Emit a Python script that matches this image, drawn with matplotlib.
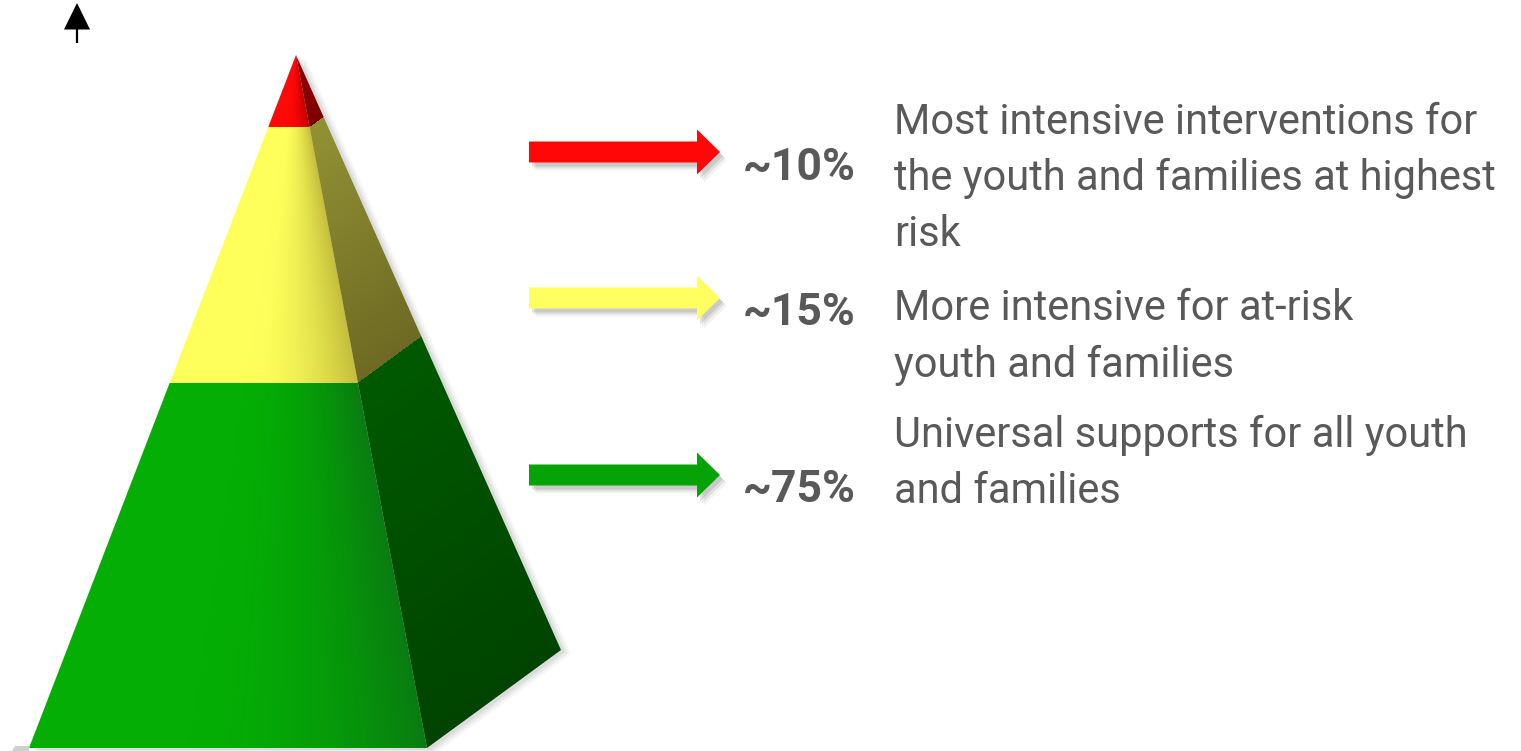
import numpy as np
import matplotlib
matplotlib.use("Agg")
import matplotlib.pyplot as plt
from matplotlib.patches import Polygon
from matplotlib.colors import to_rgb

plt.rcParams['font.family'] = ['Roboto', 'DejaVu Sans']

W, H = 1521, 751

# pyramid outline (pixel coords, y down)
apex = (296, 55)
base_left = (29, 748)
base_front = (427, 748)
base_back = (561, 650)

# tiers from the top: cut positions along the edges (0 = apex, 1 = base)
tier_cuts = [0.0, 0.104, 0.473, 1.0]
front_light = ['#ff0808', '#ffff5c', '#04ae04']
front_dark = ['#c40000', '#c4be3c', '#0a7c12']
side_top = ['#960000', '#929234', '#005a00']
side_bottom = ['#7c0000', '#6e6a24', '#004400']

# arrows and labels
arrow_colors = ['#ff0707', '#ffff60', '#05a305']
arrow_y = [152, 298, 475]
pct_labels = ['~10%', '~15%', '~75%']
pct_baselines = [180, 325, 502]
descriptions = [
    ['Most intensive interventions for', 'the youth and families at highest', 'risk'],
    ['More intensive for at-risk', 'youth and families'],
    ['Universal supports for all youth', 'and families'],
]
desc_baselines = [[134, 190, 246], [320, 377], [447, 503]]

text_grey = '#595959'

fig = plt.figure(figsize=(W / 100, H / 100), dpi=100)
ax = fig.add_axes([0, 0, 1, 1])
ax.set_xlim(0, W)
ax.set_ylim(H, 0)
ax.axis('off')


def face_params(p0, e1, e2, xx, yy):
    # solve P - p0 = a*e1 + b*e2 for every pixel
    m = np.array([[e1[0], e2[0]], [e1[1], e2[1]]], dtype=float)
    inv = np.linalg.inv(m)
    dx = xx - p0[0]
    dy = yy - p0[1]
    a = inv[0, 0] * dx + inv[0, 1] * dy
    b = inv[1, 0] * dx + inv[1, 1] * dy
    return a, b


def tier_index(t):
    idx = np.zeros_like(t, dtype=int)
    for k, c in enumerate(tier_cuts[1:-1]):
        idx[t >= c] = k + 1
    return idx


xs = np.arange(0, 620) + 0.5
ys = np.arange(0, H) + 0.5
xx, yy = np.meshgrid(xs, ys)

# drop shadow of the whole pyramid
outline = [apex, base_left, base_front, base_back]
for off, al in [((10, 4), 0.05), ((7, 3), 0.07), ((4, 2), 0.09)]:
    pts = [(x + off[0], y + off[1]) for x, y in outline]
    ax.add_patch(Polygon(pts, closed=True, fc='#555555', ec='none', alpha=al, zorder=1))
ax.add_patch(Polygon([(15, 746), (29, 746), (29, 751), (12, 751)], closed=True,
                     fc='#888888', ec='none', alpha=0.4, zorder=1))

# front face with horizontal shading
a, b = face_params(apex, (base_left[0] - apex[0], base_left[1] - apex[1]),
                   (base_front[0] - base_left[0], base_front[1] - base_left[1]), xx, yy)
u = np.clip(b / np.maximum(a, 1e-6), 0, 1)
idx = tier_index(a)
light = np.array([to_rgb(c) for c in front_light])[idx]
dark = np.array([to_rgb(c) for c in front_dark])[idx]
s = np.clip((u - 0.4) / 0.6, 0, 1) ** 1.8
img = light * (1 - s[..., None]) + dark * s[..., None]
front_poly = Polygon([apex, base_left, base_front], closed=True, transform=ax.transData)
im = ax.imshow(img, extent=(0, 620, H, 0), interpolation='bilinear', zorder=2)
im.set_clip_path(front_poly)

# right side face, darker
a2, b2 = face_params(apex, (base_front[0] - apex[0], base_front[1] - apex[1]),
                     (base_back[0] - base_front[0], base_back[1] - base_front[1]), xx, yy)
idx2 = tier_index(a2)
lo = np.array(tier_cuts)[idx2]
hi = np.array(tier_cuts)[idx2 + 1]
v = np.clip((a2 - lo) / (hi - lo), 0, 1)
top = np.array([to_rgb(c) for c in side_top])[idx2]
bot = np.array([to_rgb(c) for c in side_bottom])[idx2]
img2 = top * (1 - v[..., None]) + bot * v[..., None]
side_poly = Polygon([apex, base_front, base_back], closed=True, transform=ax.transData)
im2 = ax.imshow(img2, extent=(0, 620, H, 0), interpolation='bilinear', zorder=2)
im2.set_clip_path(side_poly)

ax.set_xlim(0, W)
ax.set_ylim(H, 0)

# block arrows pointing at the tiers
x0, x1, tip = 529, 697, 720
shaft_h, head_h = 10.5, 22.5
for col, yc in zip(arrow_colors, arrow_y):
    pts = [(x0, yc - shaft_h), (x1, yc - shaft_h), (x1, yc - head_h), (tip, yc),
           (x1, yc + head_h), (x1, yc + shaft_h), (x0, yc + shaft_h)]
    for off, al in [((7, 8), 0.06), ((5, 6), 0.1), ((3, 4), 0.14)]:
        sh = [(x + off[0], y + off[1]) for x, y in pts]
        ax.add_patch(Polygon(sh, closed=True, fc='#404040', ec='none', alpha=al, zorder=3))
    ax.add_patch(Polygon(pts, closed=True, fc=col, ec='none', zorder=4))

for lab, yb in zip(pct_labels, pct_baselines):
    ax.text(743, yb, lab, fontsize=32, fontweight='bold', color=text_grey,
            ha='left', va='baseline', zorder=5)

for lines, bls in zip(descriptions, desc_baselines):
    for line, yb in zip(lines, bls):
        ax.text(894, yb, line, fontsize=30, color=text_grey,
                ha='left', va='baseline', zorder=5)

# small up arrow in the corner
ax.add_patch(Polygon([(77, 3), (64, 29.5), (90, 29.5)], closed=True, fc='black', ec='none', zorder=5))
ax.plot([77, 77], [29, 43], color='black', lw=1.6, solid_capstyle='butt', zorder=5)

fig.savefig('out.png', dpi=100, facecolor='white')
